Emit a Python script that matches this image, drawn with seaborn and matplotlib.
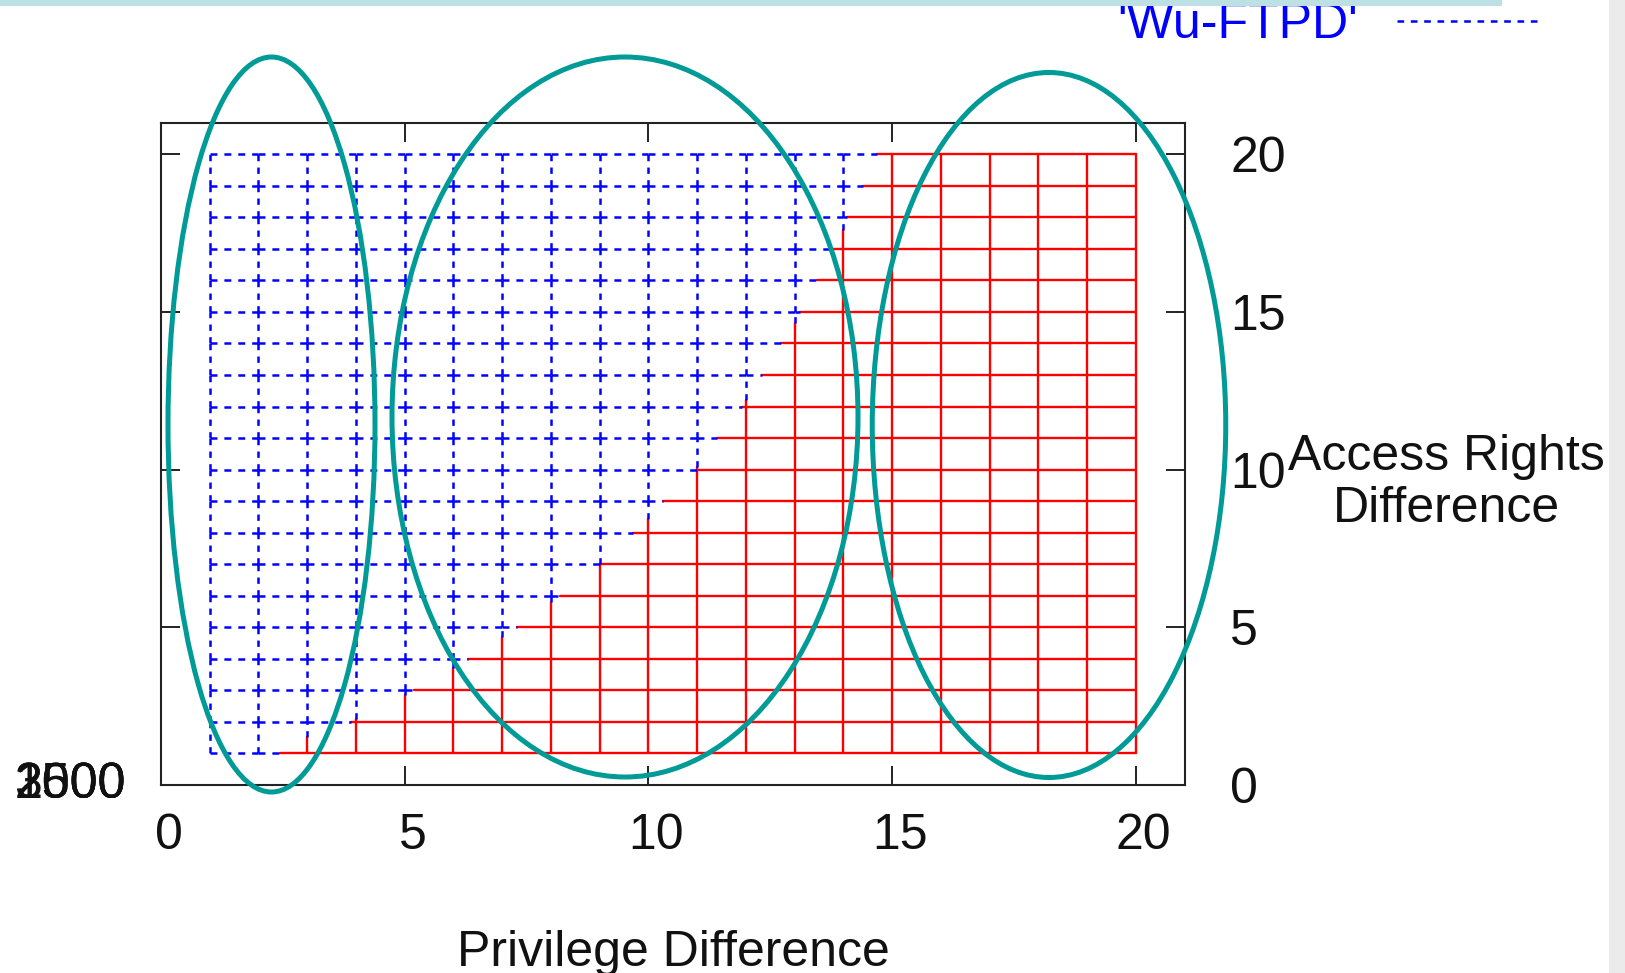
import matplotlib
matplotlib.use("Agg")
import numpy as np
import pandas as pd
import matplotlib.pyplot as plt
import seaborn as sns
from matplotlib.patches import Ellipse, Rectangle
from matplotlib.lines import Line2D
from matplotlib.transforms import ScaledTranslation

# mesh rows / columns of the two surfaces seen from above (set view map)
rows = list(range(1, 21))
# x where the red surface takes over on each row
red_start = [2.44, 3.9, 5.2, 6.3, 7.3, 8.19, 9.0, 9.69, 10.31, 11.0,
             11.4, 11.93, 12.33, 12.72, 13.11, 13.46, 13.76, 14.07, 14.41, 14.69]
cols = list(range(1, 21))
# y up to which the red surface is on top on each column
red_top = [0, 0, 1.52, 2.1, 2.84, 3.7, 4.7, 5.8, 7.0, 8.45,
           10.09, 12.2, 14.66, 17.6, 20, 20, 20, 20, 20, 20]
xticks = [0, 5, 10, 15, 20]
yticks = [0, 5, 10, 15, 20]
z_labels = ["1500", "2000", "2500", "3000"]
legend_label = "'Wu-FTPD'"
xlabel = "Privilege Difference"
ylabel = ["Access Rights", "Difference"]


def unit_segments(a, b):
    # gnuplot draws the mesh edge by edge, so split at the integer nodes
    pts = [a] + list(range(int(np.floor(a)) + 1, int(np.ceil(b)))) + [b]
    return list(zip(pts[:-1], pts[1:]))


def seg_frame(segs):
    recs = []
    for i, (x0, y0, x1, y1) in enumerate(segs):
        recs.append((i, x0, y0))
        recs.append((i, x1, y1))
    return pd.DataFrame(recs, columns=["seg", "x", "y"])


blue_h = [(a, y, b, y) for y, s in zip(rows, red_start) for a, b in unit_segments(1, s)]
blue_v = [(x, a, x, b) for x, t in zip(cols, red_top) if t < 20
          for a, b in unit_segments(max(t, 1), 20)]
red_h = [(s, y, 20, y) for y, s in zip(rows, red_start)]
red_v = [(x, 1, x, t) for x, t in zip(cols, red_top) if t > 1]

sns.set_style("white")
plt.rcParams["font.family"] = ["Liberation Sans", "DejaVu Sans"]
plt.rcParams["lines.scale_dashes"] = False

fig = plt.figure(figsize=(16.25, 9.73), dpi=100)
W, H = 1625, 973
ax = fig.add_axes([161 / W, 1 - 785 / H, (1184.5 - 161) / W, (785 - 122.7) / H])

common = dict(x="x", y="y", units="seg", estimator=None, sort=False, ax=ax)
sns.lineplot(data=seg_frame(red_h), color="#ff0000", linewidth=1.7, **common)
sns.lineplot(data=seg_frame(red_v), color="#ff0000", linewidth=1.7, **common)
sns.lineplot(data=seg_frame(blue_h), color="#0000ff", linewidth=1.8,
             linestyle=(0, (5.0, 5.0)), **common)
sns.lineplot(data=seg_frame(blue_v), color="#0000ff", linewidth=1.8,
             linestyle=(0, (4.55, 4.55)), **common)

ax.set_xlim(0, 21)
ax.set_ylim(0, 21)
ax.set_xticks(xticks)
ax.set_yticks(yticks)
ax.set_xlabel("")
ax.set_ylabel("")
for sp in ax.spines.values():
    sp.set_color("#222222")
    sp.set_linewidth(1.5)
ax.tick_params(axis="both", direction="in", length=14, width=1.4, color="#222222",
               labelsize=36, top=True, right=True, left=True, bottom=True,
               labelleft=False, labelright=True, labelcolor="#111111")
ax.tick_params(axis="x", pad=20)
ax.tick_params(axis="y", pad=33)
for lab in ax.get_xticklabels():
    lab.set_transform(lab.get_transform() + ScaledTranslation(0.08, 0, fig.dpi_scale_trans))

# axis titles
fig.text(673 / W, 1 - 966 / H, xlabel, ha="center", va="baseline", fontsize=36, color="#111111")
fig.text(1446 / W, 1 - 470.5 / H, ylabel[0], ha="center", va="baseline", fontsize=36, color="#111111")
fig.text(1446 / W, 1 - 521.5 / H, ylabel[1], ha="center", va="baseline", fontsize=36, color="#111111")

# overlapping z-axis labels left over from the 3d view
for z in z_labels:
    fig.text(126 / W, 1 - 798 / H, z, ha="right", va="baseline", fontsize=36, color="#111111")

# key of the blue surface, partly cut by the top edge
fig.text(1358 / W, 1 - 38 / H, legend_label, ha="right", va="baseline", fontsize=36,
         color="#0000ff", zorder=1)
fig.add_artist(Line2D([1397 / W, 1541 / W], [1 - 21 / H, 1 - 21 / H], transform=fig.transFigure,
                      color="#0000ff", linewidth=1.8, linestyle=(0, (4.8, 4.8))))

# page remains around the screenshot
fig.add_artist(Rectangle((0, 1 - 6 / H), 1502 / W, 6 / H, transform=fig.transFigure,
                         facecolor="#bce0e3", edgecolor="none", zorder=5))
fig.add_artist(Rectangle((1609 / W, 0), 1 - 1609 / W, 1, transform=fig.transFigure,
                         facecolor="#ebebeb", edgecolor="none", zorder=5))

# hand-drawn highlight ellipses
for cx, cy, ew, eh in [(271.5, 424.5, 207, 735), (625, 417, 466, 720), (1049, 425, 353.5, 705)]:
    fig.add_artist(Ellipse((cx / W, 1 - cy / H), ew / W, eh / H, transform=fig.transFigure,
                           fill=False, edgecolor="#009a97", linewidth=3.6, zorder=10))

fig.savefig("out.png", dpi=100)
